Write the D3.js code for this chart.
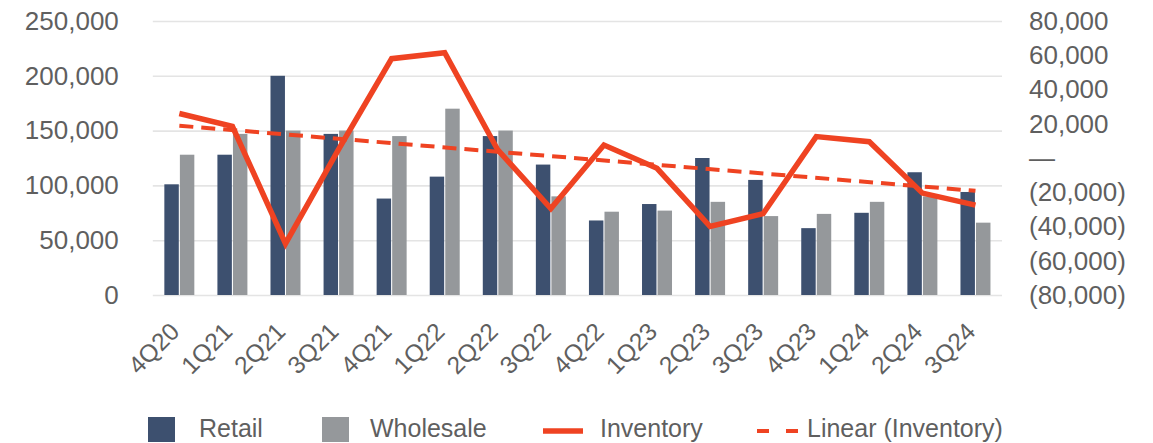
<!DOCTYPE html>
<html>
<head>
<meta charset="utf-8">
<script src="https://cdn.jsdelivr.net/npm/d3@7"></script>
<style>
    body { margin: 0; background: #fff; overflow: hidden; }
    svg text { font-family: "Liberation Sans", Arial, sans-serif; fill: #5f5f5f; }
</style>
</head>
<body>
<div id="chart"></div>
<script>

// data
const quarters = ["4Q20", "1Q21", "2Q21", "3Q21", "4Q21", "1Q22", "2Q22", "3Q22",
                  "4Q22", "1Q23", "2Q23", "3Q23", "4Q23", "1Q24", "2Q24", "3Q24"];
const retail = [101000, 128000, 200000, 147000, 88000, 108000, 145000, 119000,
                68000, 83000, 125000, 105000, 61000, 75000, 112000, 94000];
const wholesale = [128000, 147000, 150000, 150000, 145000, 170000, 150000, 90000,
                   76000, 77000, 85000, 72000, 74000, 85000, 90000, 66000];
const inventory = [26000, 18500, -50000, 5000, 58000, 61500, 4700, -29500,
                   7600, -6000, -40000, -32500, 12500, 9500, -20500, -27500];
const leftTicks = [0, 50000, 100000, 150000, 200000, 250000];
const rightTicks = [-80000, -60000, -40000, -20000, 0, 20000, 40000, 60000, 80000];
const seriesNames = ["Retail", "Wholesale"];

const colors = {Retail: "#3d506f", Wholesale: "#95989b", line: "#ef4322", grid: "#e4e4e4"};

const width = 1153, height = 443;
const plot = {left: 152.8, right: 1002, top: 21, bottom: 295};

const svg = d3.select("#chart").append("svg")
    .attr("width", width)
    .attr("height", height);

// scales
const x = d3.scaleBand()
    .domain(quarters)
    .range([plot.left, plot.right])
    .paddingInner(0.435)
    .paddingOuter(0.2175);

const x1 = d3.scaleBand()
    .domain(seriesNames)
    .range([0, x.bandwidth()])
    .paddingInner(0.07);

const yL = d3.scaleLinear().domain([0, 250000]).range([plot.bottom, plot.top]);
const yR = d3.scaleLinear().domain([-80000, 80000]).range([plot.bottom, plot.top]);

// gridlines
svg.append("g")
    .attr("transform", `translate(${plot.left},0)`)
    .call(d3.axisRight(yL).tickValues(leftTicks).tickSize(plot.right - plot.left).tickFormat(""))
    .call(g => g.select(".domain").remove())
    .call(g => g.selectAll("line").attr("stroke", colors.grid).attr("stroke-width", 1.6));

// left axis
svg.append("g")
    .attr("transform", `translate(${plot.left},0)`)
    .call(d3.axisLeft(yL).tickValues(leftTicks).tickSize(0).tickPadding(34).tickFormat(d3.format(",")))
    .call(g => g.select(".domain").remove())
    .call(g => g.selectAll("text").style("font-size", "26px").attr("fill", null));

// right axis
const fmtR = d => d === 0 ? "\u2014" : (d < 0 ? "(" + d3.format(",")(-d) + ")" : d3.format(",")(d));
svg.append("g")
    .attr("transform", `translate(${plot.right},0)`)
    .call(d3.axisRight(yR).tickValues(rightTicks).tickSize(0).tickPadding(27).tickFormat(fmtR))
    .call(g => g.select(".domain").remove())
    .call(g => g.selectAll("text").style("font-size", "26px").attr("fill", null));

// bottom axis labels, rotated
svg.append("g")
    .attr("transform", `translate(0,${plot.bottom})`)
    .call(d3.axisBottom(x).tickSize(0))
    .call(g => g.select(".domain").remove())
    .call(g => g.selectAll("text")
        .attr("y", 0).attr("dy", 0).attr("fill", null)
        .style("font-size", "24.5px")
        .attr("text-anchor", "end")
        .attr("transform", "translate(1.5,38) rotate(-45)"));

// bars
const rows = quarters.map((q, i) => ({q: q, Retail: retail[i], Wholesale: wholesale[i]}));

svg.append("g").selectAll("g")
    .data(rows)
    .join("g")
    .attr("transform", d => `translate(${x(d.q)},0)`)
    .selectAll("rect")
    .data(d => seriesNames.map(k => ({key: k, value: d[k]})))
    .join("rect")
    .attr("x", d => x1(d.key))
    .attr("width", x1.bandwidth())
    .attr("y", d => yL(d.value))
    .attr("height", d => yL(0) - yL(d.value))
    .attr("fill", d => colors[d.key]);

// linear trend of inventory (least squares)
const n = inventory.length;
const xMean = (n - 1) / 2;
const yMean = d3.mean(inventory);
let sxy = 0, sxx = 0;
inventory.forEach((v, i) => { sxy += (i - xMean) * (v - yMean); sxx += (i - xMean) * (i - xMean); });
const slope = sxy / sxx;
const trend = [0, n - 1].map(i => ({q: quarters[i], v: yMean + slope * (i - xMean)}));

const cx = q => x(q) + x.bandwidth() / 2;

const line = d3.line()
    .x(d => cx(d.q))
    .y(d => yR(d.v));

svg.append("path")
    .datum(trend)
    .attr("d", line)
    .attr("fill", "none")
    .attr("stroke", colors.line)
    .attr("stroke-width", 4)
    .attr("stroke-dasharray", "14,8");

svg.append("path")
    .datum(quarters.map((q, i) => ({q: q, v: inventory[i]})))
    .attr("d", line)
    .attr("fill", "none")
    .attr("stroke", colors.line)
    .attr("stroke-width", 5.5)
    .attr("stroke-linejoin", "miter");

// legend
const legend = svg.append("g").attr("class", "legend");
const legendY = 437;
const legendFont = "25px";

legend.append("rect").attr("x", 148).attr("y", 417).attr("width", 27).attr("height", 25).attr("fill", colors.Retail);
legend.append("text").attr("x", 199).attr("y", legendY).style("font-size", legendFont).text("Retail");

legend.append("rect").attr("x", 322).attr("y", 417).attr("width", 27).attr("height", 25).attr("fill", colors.Wholesale);
legend.append("text").attr("x", 370).attr("y", legendY).style("font-size", legendFont).text("Wholesale");

legend.append("line").attr("x1", 543).attr("x2", 583).attr("y1", 431).attr("y2", 431)
    .attr("stroke", colors.line).attr("stroke-width", 5.5);
legend.append("text").attr("x", 600).attr("y", legendY).style("font-size", legendFont).text("Inventory");

legend.append("line").attr("x1", 757).attr("x2", 798).attr("y1", 431).attr("y2", 431)
    .attr("stroke", colors.line).attr("stroke-width", 4).attr("stroke-dasharray", "12,17");
legend.append("text").attr("x", 807).attr("y", legendY).style("font-size", legendFont).text("Linear (Inventory)");

</script>
</body>
</html>
